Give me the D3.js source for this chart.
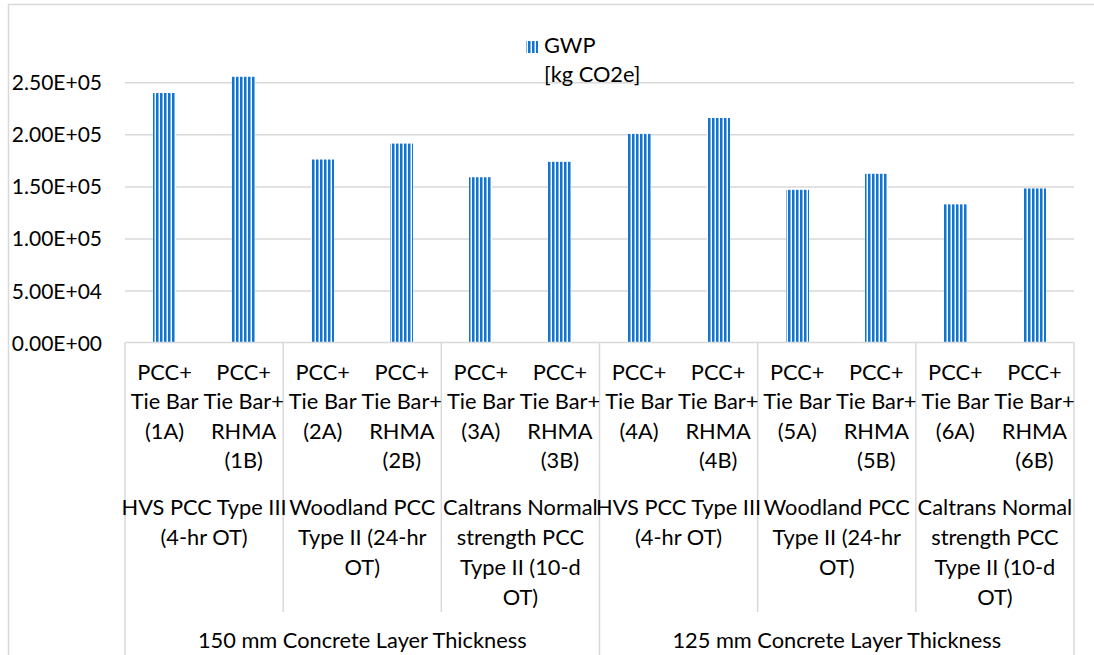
<!DOCTYPE html>
<html>
<head>
<meta charset="utf-8">
<script src="https://cdn.jsdelivr.net/npm/d3@7"></script>
<style>
  html, body { margin: 0; padding: 0; background: #fff; }
  svg { display: block; font-family: Lato, "Open Sans", sans-serif; }
</style>
</head>
<body>
<svg id="chart" width="1094" height="655"></svg>
<script>
// ---------- data ----------
const categoryIds = ["1A","1B","2A","2B","3A","3B","4A","4B","5A","5B","6A","6B"];
const categoryLabels = [
  ["PCC+","Tie Bar","(1A)"], ["PCC+","Tie Bar+","RHMA","(1B)"],
  ["PCC+","Tie Bar","(2A)"], ["PCC+","Tie Bar+","RHMA","(2B)"],
  ["PCC+","Tie Bar","(3A)"], ["PCC+","Tie Bar+","RHMA","(3B)"],
  ["PCC+","Tie Bar","(4A)"], ["PCC+","Tie Bar+","RHMA","(4B)"],
  ["PCC+","Tie Bar","(5A)"], ["PCC+","Tie Bar+","RHMA","(5B)"],
  ["PCC+","Tie Bar","(6A)"], ["PCC+","Tie Bar+","RHMA","(6B)"]
];
const gwpValues = [239700, 255300, 175800, 191100, 158800, 173600,
                   200400, 215700, 146700, 162100, 132700, 148000];
const mixLabels = [
  ["HVS PCC Type III","(4-hr OT)"],
  ["Woodland PCC","Type II (24-hr","OT)"],
  ["Caltrans Normal","strength PCC","Type II (10-d","OT)"],
  ["HVS PCC Type III","(4-hr OT)"],
  ["Woodland PCC","Type II (24-hr","OT)"],
  ["Caltrans Normal","strength PCC","Type II (10-d","OT)"]
];
const thicknessLabels = ["150 mm Concrete Layer Thickness", "125 mm Concrete Layer Thickness"];
const yTicks = [0, 50000, 100000, 150000, 200000, 250000];
const seriesLabel = ["GWP", "[kg CO2e]"];

// ---------- layout ----------
const svg = d3.select("#chart");
const plotLeft = 125, plotRight = 1074, plotTop = 82.3, plotBottom = 342.5;
const barColor = "#1276cf";
const gridColor = "#d9d9d9";
const fontSize = 21.8;

const x = d3.scaleBand().domain(categoryIds).range([plotLeft, plotRight]).padding(0);
const y = d3.scaleLinear().domain([0, 250000]).range([plotBottom, plotTop]);
const barW = x.bandwidth() * 0.29;

function sci(v) {
  const [m, e] = v.toExponential(2).split("e");
  const sign = e[0] === "-" ? "-" : "+";
  const digits = e.replace(/^[+-]/, "").padStart(2, "0");
  return m + "E" + sign + digits;
}

// pattern (vertical stripes)
const defs = svg.append("defs");
const pat = defs.append("pattern").attr("id", "vstripe")
  .attr("patternUnits", "userSpaceOnUse").attr("width", 4).attr("height", 10);
pat.append("rect").attr("x", 0).attr("y", 0).attr("width", 4).attr("height", 10).attr("fill", "#fff");
pat.append("rect").attr("x", 0).attr("y", 0).attr("width", 2).attr("height", 10).attr("fill", barColor);
pat.append("rect").attr("x", 2).attr("y", 0).attr("width", 1).attr("height", 10).attr("fill", "#7fb6e8");

// outer chart border
svg.append("rect").attr("x", 8.5).attr("y", 4.5).attr("width", 1200).attr("height", 800)
  .attr("fill", "none").attr("stroke", gridColor).attr("stroke-width", 1.5);

// gridlines
const grid = svg.append("g").attr("transform", `translate(${plotLeft},0)`)
  .call(d3.axisLeft(y).tickValues(yTicks.filter(d => d > 0)).tickSize(-(plotRight - plotLeft)).tickFormat(""));
grid.select(".domain").remove();
grid.selectAll(".tick line").attr("stroke", gridColor).attr("stroke-width", 1.5);

// y axis labels
const yAxis = svg.append("g").attr("transform", `translate(102,0)`)
  .call(d3.axisLeft(y).tickValues(yTicks).tickSize(0).tickPadding(0).tickFormat(sci));
yAxis.select(".domain").remove();
yAxis.selectAll("text").attr("font-size", 21).attr("fill", "#000")
  .attr("font-family", "Lato, 'Open Sans', sans-serif").attr("dy", "0.36em");

// bars
svg.append("g").selectAll("rect").data(gwpValues).join("rect")
  .attr("x", (d, i) => Math.round(x(categoryIds[i]) + (x.bandwidth() - barW) / 2))
  .attr("y", d => y(d))
  .attr("width", Math.round(barW))
  .attr("height", d => y(0) - y(d))
  .attr("fill", "url(#vstripe)");

// category axis box
const axisG = svg.append("g").attr("stroke", gridColor).attr("stroke-width", 1.5).attr("fill", "none");
axisG.append("line").attr("x1", plotLeft).attr("x2", plotRight).attr("y1", plotBottom).attr("y2", plotBottom);
[plotLeft, plotRight].forEach(px => axisG.append("line").attr("x1", px).attr("x2", px).attr("y1", plotBottom).attr("y2", 700));
// separators between mix groups
mixLabels.forEach((d, i) => {
  if (i === 0) return;
  const px = x(categoryIds[i * 2]);
  const full = (i % 3 === 0);
  axisG.append("line").attr("x1", px).attr("x2", px).attr("y1", plotBottom).attr("y2", full ? 700 : 612);
});

const textG = svg.append("g").attr("font-size", fontSize).attr("fill", "#000").attr("text-anchor", "middle");
const lineH = 29.4;
// level 0 labels
categoryLabels.forEach((lines, i) => {
  const cx = x(categoryIds[i]) + x.bandwidth() / 2;
  lines.forEach((t, j) => {
    textG.append("text").attr("x", cx).attr("y", 380 + j * lineH).text(t);
  });
});
// level 1 labels
mixLabels.forEach((lines, i) => {
  const cx = x(categoryIds[i * 2]) + x.bandwidth();
  lines.forEach((t, j) => {
    textG.append("text").attr("x", cx).attr("y", 515 + j * 30).text(t);
  });
});
// level 2 labels
thicknessLabels.forEach((t, i) => {
  const cx = x(categoryIds[i * 6]) + x.bandwidth() * 3;
  textG.append("text").attr("x", cx).attr("y", 648).text(t);
});

// legend
const leg = svg.append("g");
leg.append("rect").attr("x", 526).attr("y", 41).attr("width", 12).attr("height", 12).attr("fill", "url(#vstripe)");
seriesLabel.forEach((t, j) => {
  leg.append("text").attr("x", 544).attr("y", 53 + j * 29).attr("font-size", fontSize).attr("fill", "#000").text(t);
});
</script>
</body>
</html>
